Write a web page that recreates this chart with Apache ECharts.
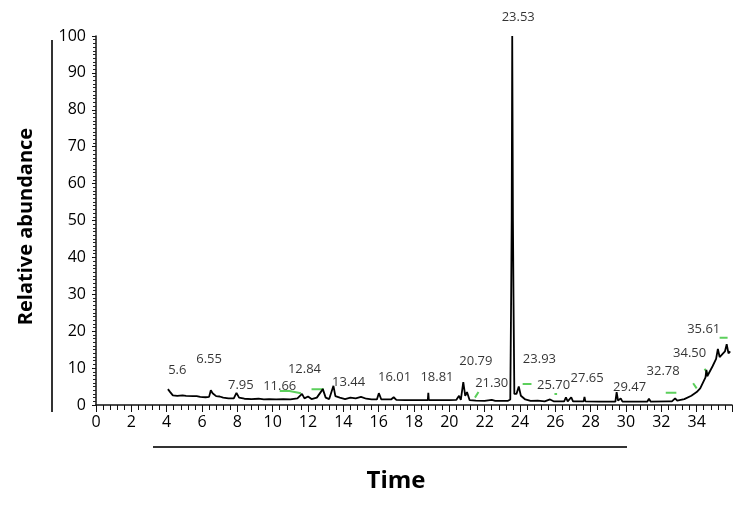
<!DOCTYPE html>
<html>
<head>
<meta charset="utf-8">
<script src="https://cdn.jsdelivr.net/npm/echarts@6/dist/echarts.min.js"></script>
<style>
  html, body { margin: 0; padding: 0; background: #fff; }
  #chart { width: 748px; height: 515px; }
</style>
</head>
<body>
<div id="chart"></div>
<script>
// chromatogram trace (time in min, relative abundance)
const traceTime = [4.07, 4.2, 4.35, 4.6, 4.9, 5.0, 5.1, 5.5, 5.6, 5.7, 5.9, 6.2, 6.4, 6.5, 6.6, 6.8, 7.0, 7.2, 7.5, 7.8,
  7.95, 8.1, 8.4, 8.8, 9.2, 9.5, 9.8, 10.2, 10.6, 11.0, 11.4, 11.66, 11.8, 12.0, 12.2, 12.5, 12.84, 13.0, 13.2, 13.44,
  13.55, 13.8, 14.1, 14.4, 14.7, 15.0, 15.3, 15.6, 15.9, 16.01, 16.15, 16.7, 16.85, 17.0, 17.5, 18.0, 18.5, 18.78, 18.81, 18.84,
  19.5, 20.0, 20.4, 20.55, 20.65, 20.79, 20.9, 21.0, 21.15, 21.5, 22.0, 22.4, 22.6, 23.3, 23.45, 23.5, 23.53, 23.56, 23.6, 23.63,
  23.68, 23.8, 23.93, 24.05, 24.3, 24.6, 25.0, 25.4, 25.7, 25.9, 26.5, 26.6, 26.7, 26.9, 27.0, 27.6, 27.65, 27.7, 28.5, 29.4,
  29.47, 29.55, 29.7, 29.8, 30.5, 31.2, 31.3, 31.4, 32.4, 32.5, 32.6, 32.78, 32.9, 33.3, 33.7, 34.0, 34.2, 34.5, 34.55, 34.6,
  34.9, 35.1, 35.2, 35.3, 35.6, 35.7, 35.8, 35.9];
const traceAbund = [4.3, 3.5, 2.6, 2.5, 2.6, 3.0, 2.5, 2.4, 2.1, 2.4, 2.2, 2.1, 2.2, 4.0, 3.2, 2.4, 2.3, 2.0, 1.8, 1.8,
  3.3, 2.0, 1.7, 1.6, 1.7, 1.5, 1.6, 1.5, 1.6, 1.5, 1.8, 3.0, 1.8, 2.3, 1.6, 2.0, 4.3, 2.0, 1.6, 5.2,
  2.4, 2.0, 1.6, 2.0, 1.8, 2.2, 1.7, 1.5, 1.5, 3.2, 1.5, 1.5, 2.1, 1.4, 1.3, 1.3, 1.3, 1.3, 3.3, 1.3,
  1.3, 1.3, 1.4, 2.5, 1.4, 6.2, 2.5, 3.5, 1.3, 1.2, 1.1, 1.4, 1.1, 1.1, 1.5, 30, 50, 100, 50, 30,
  3.0, 3.0, 5.0, 2.5, 1.5, 1.1, 1.2, 1.0, 1.5, 1.0, 1.0, 2.1, 1.0, 2.1, 1.0, 1.0, 2.2, 1.0, 0.9, 0.9,
  3.5, 1.2, 1.8, 0.9, 0.9, 0.9, 1.7, 0.9, 1.0, 1.4, 1.0, 1.8, 1.2, 1.6, 2.5, 3.5, 4.5, 7.5, 9.5, 7.8,
  10.5, 12.5, 15.2, 13.0, 14.5, 16.5, 14.0, 14.5];

// peak annotations: text and where it sits
const peakNames = ['5.6', '6.55', '7.95', '11.66', '12.84', '13.44', '16.01', '18.81', '20.79', '21.30',
  '23.53', '23.93', '25.70', '27.65', '29.47', '32.78', '34.50', '35.61'];
const peakLabelX = [4.6, 6.4, 8.2, 10.4, 11.8, 14.3, 16.9, 19.3, 21.5, 22.4,
  23.9, 25.1, 25.9, 27.8, 30.2, 32.1, 33.6, 34.4];
const peakLabelY = [9.5, 12.5, 5.4, 5.1, 9.8, 6.2, 7.6, 7.6, 11.9, 6.0,
  105, 12.5, 5.4, 7.3, 4.9, 9.2, 14.1, 20.6];

// green integration marks (null separates segments)
const markTime = [10.4, 10.95, 11.6, null, 12.2, 12.9, null, 21.45, 21.65, null, 24.15, 24.65, null, 25.95, 26.1, null,
  32.25, 32.85, null, 33.8, 34.0, null, 34.45, 34.6, null, 35.3, 35.75];
const markAbund = [3.8, 3.8, 3.2, null, 4.3, 4.3, null, 2.0, 3.5, null, 5.7, 5.7, null, 3.0, 3.0, null,
  3.3, 3.3, null, 5.9, 4.5, null, 9.8, 8.6, null, 18.2, 18.2];

const yTicks = [0, 10, 20, 30, 40, 50, 60, 70, 80, 90, 100];

const chart = echarts.init(document.getElementById('chart'));
const font = '"Open Sans", "DejaVu Sans", sans-serif';

chart.setOption({
  animation: false,
  grid: { left: 96, right: 16, top: 36, bottom: 110 },
  xAxis: {
    type: 'value',
    min: 0,
    max: 36,
    interval: 2,
    name: 'Time',
    nameLocation: 'middle',
    nameGap: 64,
    nameTextStyle: { fontFamily: font, fontSize: 24, fontWeight: 'bold', color: '#000', padding: [0, 36, 0, 0] },
    axisLine: { lineStyle: { color: '#111', width: 1.5 } },
    axisTick: { length: 7, lineStyle: { color: '#111' } },
    minorTick: { show: true, splitNumber: 5, length: 5, lineStyle: { color: '#111' } },
    axisLabel: {
      fontFamily: font, fontSize: 16, color: '#000', margin: 9,
      formatter: v => (v > 34 ? '' : String(v))
    },
    splitLine: { show: false }
  },
  yAxis: {
    type: 'value',
    min: yTicks[0],
    max: yTicks[yTicks.length - 1],
    interval: 10,
    name: 'Relative abundance',
    nameLocation: 'middle',
    nameGap: 60,
    nameTextStyle: { fontFamily: font, fontSize: 20, fontWeight: 'bold', color: '#000', padding: [0, 12, 0, 0] },
    axisLine: { show: true, lineStyle: { color: '#111', width: 1.5 } },
    axisTick: { length: 4, lineStyle: { color: '#111' } },
    minorTick: { show: true, splitNumber: 10, length: 3, lineStyle: { color: '#222' } },
    axisLabel: { fontFamily: font, fontSize: 16, color: '#000', margin: 10 },
    splitLine: { show: false }
  },
  graphic: [
    { type: 'line', shape: { x1: 52, y1: 40, x2: 52, y2: 412 }, style: { stroke: '#333', lineWidth: 2 } },
    { type: 'line', shape: { x1: 153, y1: 447, x2: 627, y2: 447 }, style: { stroke: '#333', lineWidth: 2 } }
  ],
  series: [
    {
      name: 'trace',
      type: 'line',
      data: traceTime.map((t, i) => [t, traceAbund[i]]),
      showSymbol: false,
      lineStyle: { color: '#000', width: 1.8 },
      z: 3
    },
    {
      name: 'marks',
      type: 'line',
      data: markTime.map((t, i) => [t, markAbund[i]]),
      connectNulls: false,
      showSymbol: false,
      lineStyle: { color: '#5ccf5c', width: 2 },
      z: 2
    },
    {
      name: 'peaks',
      type: 'scatter',
      symbolSize: 0,
      clip: false,
      data: peakNames.map((n, i) => ({ name: n, value: [peakLabelX[i], peakLabelY[i]] })),
      label: {
        show: true,
        position: 'inside',
        formatter: p => p.name,
        fontFamily: font,
        fontSize: 13,
        color: '#000'
      },
      z: 4
    }
  ]
});
</script>
</body>
</html>
